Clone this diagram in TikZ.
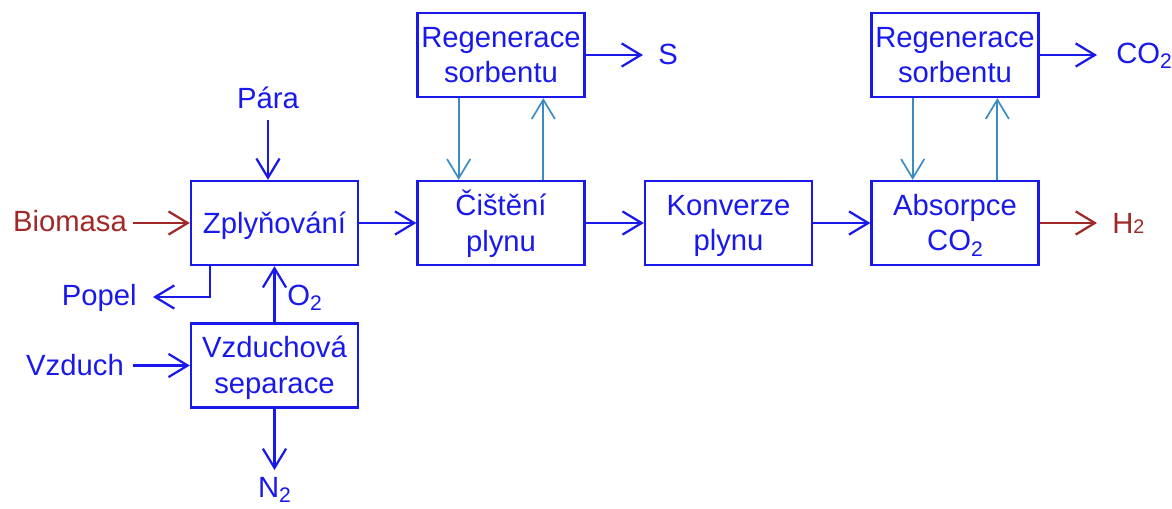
\documentclass[tikz,border=0pt]{standalone}
\usepackage{fontspec}
\setmainfont{Liberation Sans}
\usetikzlibrary{arrows.meta,calc}
\definecolor{fblue}{RGB}{25,25,235}
\definecolor{fred}{RGB}{160,40,40}
\definecolor{fsteel}{RGB}{60,140,195}
\newcommand{\subtwo}{\raisebox{-0.35ex}{\fontsize{15}{15}\selectfont 2}}
\newcommand{\bt}[1]{\raisebox{-0.075cm}[\height][\depth]{\begin{tabular}{@{}c@{}}#1\end{tabular}}}
\begin{document}
\begin{tikzpicture}[x=0.025cm,y=-0.025cm,
  box/.style={draw=fblue,line width=1.6pt,minimum width=4.175cm,minimum height=2.1cm,inner sep=0pt,text=fblue,font=\fontsize{20.8}{25}\selectfont},
  lbl/.style={text=fblue,font=\fontsize{20.8}{25}\selectfont,inner sep=0pt},
  rlbl/.style={lbl,text=fred},
  arr/.style={draw=fblue,line width=1.6pt,-{Straight Barb[length=4.8mm,width=5.8mm]}},
  rarr/.style={arr,draw=fred},
  sarr/.style={arr,draw=fsteel,line width=1.2pt}]
\useasboundingbox (0,0) rectangle (1172,508);
% boxes
\node[box] (zpl) at (274.5,223) {\bt{Zplyňování}};
\node[box] (vzd) at (274.5,365.5) {\bt{Vzduchová\\separace}};
\node[box] (cis) at (501,223) {\bt{Čištění\\plynu}};
\node[box] (reg1) at (501,55) {\bt{Regenerace\\sorbentu}};
\node[box] (konv) at (728.5,223) {\bt{Konverze\\plynu}};
\node[box] (abs) at (955,223) {\bt{Absorpce\\CO\subtwo}};
\node[box] (reg2) at (955,55) {\bt{Regenerace\\sorbentu}};
% labels
\node[lbl] (para) at (268,98) {Pára};
\node[rlbl] (bio) at (70,221) {Biomasa};
\node[lbl,anchor=east] (popel) at (137,298) {Popel};
\node[lbl,anchor=west] (o2) at (287,298) {O\subtwo};
\node[lbl] (vzduch) at (75,365) {Vzduch};
\node[lbl] (n2) at (274.5,490) {N\subtwo};
\node[lbl] (s) at (668,54) {S};
\node[lbl,anchor=west] (co2) at (1116,56) {CO\subtwo};
\node[rlbl,anchor=west] (h2) at (1112,223) {H{\fontsize{14}{14}\selectfont 2}};
% coordinates
\coordinate (paraS) at (268,120);
\coordinate (bioS) at (133,223);
\coordinate (popE) at (153,297);
\coordinate (vzS) at (133,365.5);
\coordinate (n2E) at (274.5,470);
\coordinate (sE) at (643,55);
\coordinate (co2E) at (1097,55);
\coordinate (h2E) at (1097,223);
% connectors
\draw[arr] (paraS) -- (paraS |- zpl.north);
\draw[rarr] (bioS) -- (zpl.west);
\draw[arr] ($(zpl.south west)!0.12!(zpl.south east)$) |- (popE);
\draw[arr] (vzd.north) -- (zpl.south);
\draw[arr] (vzS) -- (vzd.west);
\draw[arr] (vzd.south) -- (n2E);
\draw[arr] (zpl) -- (cis);
\draw[arr] (cis) -- (konv);
\draw[arr] (konv) -- (abs);
\draw[rarr] (abs.east) -- (h2E);
\draw[arr] (reg1.east) -- (sE);
\draw[arr] (reg2.east) -- (co2E);
\draw[sarr] ($(reg1.south west)!0.25!(reg1.south east)$) -- ($(cis.north west)!0.25!(cis.north east)$);
\draw[sarr] ($(cis.north west)!0.75!(cis.north east)$) -- ($(reg1.south west)!0.75!(reg1.south east)$);
\draw[sarr] ($(reg2.south west)!0.25!(reg2.south east)$) -- ($(abs.north west)!0.25!(abs.north east)$);
\draw[sarr] ($(abs.north west)!0.75!(abs.north east)$) -- ($(reg2.south west)!0.75!(reg2.south east)$);
\end{tikzpicture}
\end{document}
